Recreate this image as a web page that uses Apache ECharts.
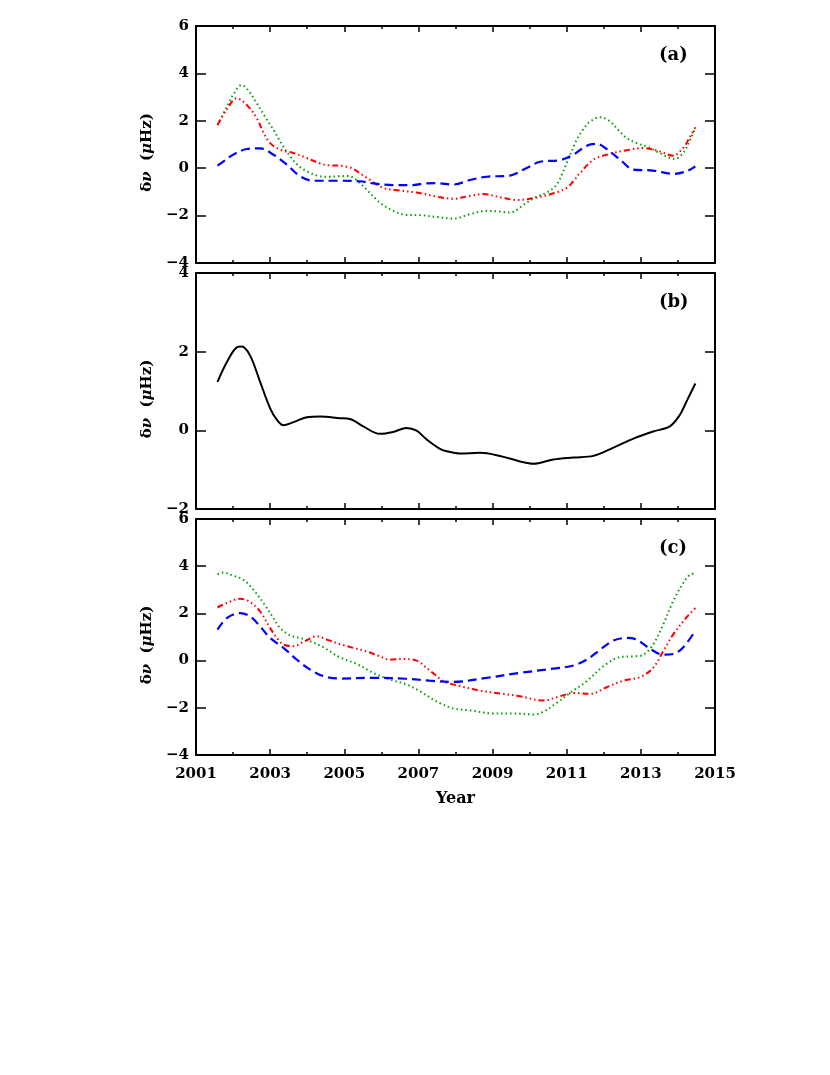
<!DOCTYPE html>
<html>
<head>
<meta charset="utf-8">
<script src="https://cdn.jsdelivr.net/npm/echarts@6/dist/echarts.min.js"></script>
<style>
html,body{margin:0;padding:0;background:#fff;}
#chart{width:830px;height:1075px;}
</style>
</head>
<body>
<div id="chart"></div>
<script>
// ---- Data (year, δν in μHz) ----
const X_START = 2001, X_END = 2015, X_STEP = 2;
const panelLabels = ['(a)', '(b)', '(c)'];
const yRanges = [[-4, 6], [-2, 4], [-4, 6]];
const yTitle = '{b|δ}{i|ν}{b|  (}{i|μ}{b|Hz)}';
const xTitle = 'Year';

// Panel (a)
const aGreen = [[2001.58,1.82],[2001.8,2.5],[2002.0,3.1],[2002.23,3.51],[2002.4,3.3],[2002.64,2.74],[2002.85,2.2],[2003.09,1.62],[2003.3,1.05],[2003.54,0.5],[2003.75,0.12],[2003.99,-0.13],[2004.35,-0.34],[2004.6,-0.36],[2004.88,-0.34],[2005.1,-0.33],[2005.24,-0.4],[2005.42,-0.62],[2005.6,-0.9],[2005.96,-1.45],[2006.32,-1.8],[2006.68,-1.97],[2007.04,-1.98],[2007.49,-2.06],[2007.94,-2.13],[2008.39,-1.94],[2008.84,-1.8],[2009.2,-1.83],[2009.47,-1.87],[2009.92,-1.45],[2010.2,-1.2],[2010.46,-1.03],[2010.73,-0.69],[2011.0,0.22],[2011.27,1.2],[2011.45,1.65],[2011.63,1.97],[2011.9,2.15],[2012.17,1.97],[2012.4,1.6],[2012.62,1.27],[2012.9,1.05],[2013.15,0.92],[2013.51,0.64],[2013.75,0.45],[2013.92,0.39],[2014.14,0.64],[2014.3,1.1],[2014.47,1.72]];
const aRed = [[2001.58,1.82],[2001.8,2.4],[2002.1,2.95],[2002.37,2.67],[2002.64,2.11],[2002.82,1.5],[2003.0,1.06],[2003.27,0.78],[2003.63,0.64],[2003.99,0.43],[2004.35,0.2],[2004.6,0.12],[2004.88,0.11],[2005.1,0.05],[2005.24,-0.03],[2005.6,-0.4],[2006.05,-0.83],[2006.5,-0.94],[2006.95,-1.03],[2007.2,-1.1],[2007.49,-1.2],[2007.94,-1.29],[2008.35,-1.18],[2008.75,-1.09],[2009.2,-1.22],[2009.65,-1.34],[2010.19,-1.24],[2010.64,-1.06],[2011.0,-0.83],[2011.18,-0.55],[2011.36,-0.2],[2011.72,0.36],[2012.08,0.57],[2012.62,0.76],[2013.07,0.85],[2013.51,0.71],[2013.87,0.53],[2014.14,0.85],[2014.3,1.25],[2014.47,1.73]];
const aBlue = [[2001.58,0.11],[2001.8,0.35],[2002.0,0.57],[2002.37,0.81],[2002.73,0.84],[2003.09,0.57],[2003.45,0.15],[2003.81,-0.34],[2004.17,-0.53],[2004.88,-0.53],[2005.42,-0.55],[2005.78,-0.64],[2006.32,-0.71],[2006.86,-0.71],[2007.2,-0.64],[2007.49,-0.63],[2007.94,-0.69],[2008.39,-0.5],[2008.84,-0.36],[2009.47,-0.31],[2009.92,0.01],[2010.28,0.27],[2010.82,0.34],[2011.18,0.57],[2011.54,0.95],[2011.81,1.03],[2012.08,0.81],[2012.44,0.36],[2012.8,-0.06],[2013.33,-0.1],[2013.87,-0.24],[2014.23,-0.13],[2014.47,0.08]];

// Panel (b)
const bBlack = [[2001.58,1.23],[2001.83,1.73],[2002.1,2.11],[2002.23,2.13],[2002.46,1.9],[2002.73,1.23],[2003.0,0.56],[2003.18,0.27],[2003.36,0.13],[2003.63,0.21],[2003.99,0.33],[2004.35,0.35],[2004.88,0.31],[2005.15,0.29],[2005.51,0.1],[2005.96,-0.09],[2006.32,-0.04],[2006.68,0.06],[2006.95,-0.01],[2007.22,-0.23],[2007.58,-0.47],[2007.76,-0.53],[2008.12,-0.59],[2008.66,-0.57],[2009.2,-0.65],[2009.74,-0.79],[2010.1,-0.85],[2010.64,-0.74],[2011.18,-0.69],[2011.72,-0.65],[2012.26,-0.44],[2012.8,-0.21],[2013.33,-0.03],[2013.78,0.1],[2014.05,0.39],[2014.23,0.73],[2014.47,1.19]];

// Panel (c)
const cGreen = [[2001.58,3.66],[2001.74,3.73],[2002.0,3.6],[2002.28,3.42],[2002.55,3.0],[2002.82,2.44],[2003.09,1.8],[2003.27,1.38],[2003.54,1.07],[2003.81,0.96],[2004.08,0.82],[2004.44,0.56],[2004.88,0.14],[2005.33,-0.14],[2005.78,-0.52],[2006.23,-0.8],[2006.68,-1.01],[2007.04,-1.3],[2007.4,-1.65],[2007.58,-1.8],[2007.94,-2.03],[2008.39,-2.11],[2009.02,-2.24],[2009.56,-2.24],[2010.1,-2.28],[2010.37,-2.17],[2010.73,-1.79],[2011.09,-1.37],[2011.54,-0.87],[2011.99,-0.24],[2012.44,0.15],[2012.8,0.18],[2013.07,0.25],[2013.33,0.68],[2013.6,1.52],[2013.87,2.51],[2014.14,3.28],[2014.32,3.63],[2014.47,3.7]];
const cRed = [[2001.58,2.25],[2001.83,2.44],[2002.19,2.62],[2002.46,2.48],[2002.73,2.08],[2003.0,1.38],[2003.18,0.96],[2003.36,0.68],[2003.63,0.61],[2003.9,0.79],[2004.26,1.03],[2004.53,0.89],[2004.88,0.7],[2005.24,0.54],[2005.6,0.39],[2005.96,0.18],[2006.23,0.04],[2006.59,0.07],[2006.95,0.0],[2007.22,-0.31],[2007.45,-0.6],[2007.67,-0.87],[2008.12,-1.08],[2008.66,-1.27],[2009.29,-1.41],[2009.74,-1.51],[2010.37,-1.69],[2010.82,-1.51],[2011.18,-1.37],[2011.63,-1.41],[2012.08,-1.13],[2012.53,-0.85],[2012.98,-0.7],[2013.33,-0.31],[2013.6,0.39],[2013.87,1.1],[2014.23,1.83],[2014.47,2.23]];
const cBlue = [[2001.58,1.31],[2001.83,1.8],[2002.19,2.01],[2002.46,1.87],[2002.73,1.45],[2003.0,0.96],[2003.36,0.54],[2003.72,0.04],[2004.08,-0.38],[2004.44,-0.66],[2004.88,-0.76],[2005.78,-0.73],[2006.68,-0.77],[2007.3,-0.85],[2007.94,-0.9],[2008.84,-0.73],[2009.74,-0.52],[2010.64,-0.34],[2011.18,-0.21],[2011.54,0.04],[2011.9,0.46],[2012.26,0.85],[2012.62,0.96],[2012.89,0.89],[2013.24,0.51],[2013.6,0.25],[2013.87,0.28],[2014.14,0.56],[2014.47,1.27]];

// ---- Styles ----
const FONT = 'DejaVu Serif';
const COLORS = {green: '#00a000', red: '#ff0000', blue: '#0000ff', black: '#000000'};
const STYLE = {
  green: {type: [1.5, 3], width: 2},
  red: {type: [6, 3, 1.5, 3, 1.5, 3, 1.5, 3], width: 2},
  blue: {type: [9, 5], width: 2.2},
  black: {type: 'solid', width: 2}
};
const panels = [
  [['green', aGreen], ['red', aRed], ['blue', aBlue]],
  [['black', bBlack]],
  [['green', cGreen], ['red', cRed], ['blue', cBlue]]
];
const gridBoxes = [{top: 26, height: 237}, {top: 273, height: 236}, {top: 519, height: 236}];

const minus = v => String(v).replace('-', '\u2212');
const grids = [], xAxes = [], yAxes = [], series = [], titles = [];

gridBoxes.forEach((g, i) => {
  grids.push({left: 196, right: 115, top: g.top, height: g.height, containLabel: false});
  const line = {show: true, onZero: false, lineStyle: {color: '#000', width: 2}};
  const xBase = {
    type: 'value', gridIndex: i, min: 0, max: X_END - X_START, interval: X_STEP,
    axisLine: line, splitLine: {show: false},
    axisTick: {show: true, inside: true, length: 6, lineStyle: {color: '#000', width: 1.5}},
    minorTick: {show: true, splitNumber: 2, length: 3, lineStyle: {color: '#000', width: 1.5}},
    minorSplitLine: {show: false}
  };
  xAxes.push(Object.assign({}, xBase, {
    position: 'bottom',
    axisLabel: {show: i === 2, formatter: v => String(v + X_START), fontFamily: FONT, fontWeight: 'bold', fontSize: 15, color: '#000', margin: 12},
    name: i === 2 ? xTitle : '', nameLocation: 'middle', nameGap: 36,
    nameTextStyle: {fontFamily: FONT, fontWeight: 'bold', fontSize: 16, color: '#000'}
  }));
  xAxes.push(Object.assign({}, xBase, {position: 'top', axisLabel: {show: false}}));
  const yBase = {
    type: 'value', gridIndex: i, min: yRanges[i][0], max: yRanges[i][1], interval: 2,
    axisLine: line, splitLine: {show: false},
    axisTick: {show: true, inside: true, length: 10, lineStyle: {color: '#000', width: 1.5}}
  };
  yAxes.push(Object.assign({}, yBase, {
    position: 'left',
    axisLabel: {formatter: minus, fontFamily: FONT, fontWeight: 'bold', fontSize: 15, color: '#000', margin: 7},
    name: yTitle, nameLocation: 'middle', nameGap: 40, nameRotate: 90,
    nameTextStyle: {
      color: '#000',
      padding: [0, 16, 0, 0],
      rich: {
        b: {fontFamily: FONT, fontWeight: 'bold', fontSize: 15, color: '#000'},
        i: {fontFamily: FONT, fontWeight: 'bold', fontStyle: 'italic', fontSize: 15, color: '#000'}
      }
    }
  }));
  yAxes.push(Object.assign({}, yBase, {position: 'right', axisLabel: {show: false}}));
  titles.push({text: panelLabels[i], left: 654, top: g.top + 15,
    textStyle: {fontFamily: FONT, fontWeight: 'bold', fontSize: 18, color: '#000'}});
  panels[i].forEach(([key, pts]) => {
    series.push({
      type: 'line', xAxisIndex: 2 * i, yAxisIndex: 2 * i,
      data: pts.map(p => [p[0] - X_START, p[1]]),
      smooth: 0.35, showSymbol: false, symbol: 'none', silent: true,
      lineStyle: Object.assign({color: COLORS[key]}, STYLE[key])
    });
  });
});

const chart = echarts.init(document.getElementById('chart'), null, {renderer: 'canvas'});
chart.setOption({
  animation: false,
  backgroundColor: '#fff',
  title: titles,
  grid: grids,
  xAxis: xAxes,
  yAxis: yAxes,
  series: series
});
</script>
</body>
</html>
